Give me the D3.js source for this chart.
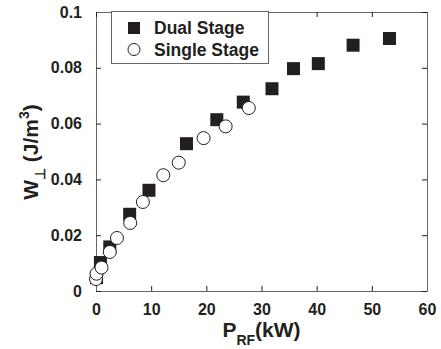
<!DOCTYPE html>
<html>
<head>
<meta charset="utf-8">
<script src="https://cdn.jsdelivr.net/npm/d3@7"></script>
<style>
  body { margin: 0; background: #fff; }
  svg text { font-family: "Liberation Sans", Arial, sans-serif; font-weight: bold; fill: #231f20; }
</style>
</head>
<body>
<svg id="chart" width="441" height="349"></svg>
<script>
// data
const dualX = [0.1, 0.8, 2.5, 6.1, 9.6, 16.4, 21.9, 26.7, 31.9, 35.8, 40.3, 46.6, 53.2];
const dualY = [0.0048, 0.0102, 0.0158, 0.0275, 0.0361, 0.0528, 0.0614, 0.0677, 0.0725, 0.0797, 0.0815, 0.0881, 0.0905];
const singleX = [0.0, 0.1, 1.0, 2.5, 3.8, 6.2, 8.5, 12.2, 15.0, 19.5, 23.5, 27.7];
const singleY = [0.0043, 0.0062, 0.0084, 0.014, 0.019, 0.0244, 0.0319, 0.0415, 0.046, 0.0548, 0.059, 0.0656];
const xTicks = [0, 10, 20, 30, 40, 50, 60];
const yTicks = [0, 0.02, 0.04, 0.06, 0.08, 0.1];
const yTickLabels = ["0", "0.02", "0.04", "0.06", "0.08", "0.1"];
const seriesNames = ["Dual Stage", "Single Stage"];

const ink = "#231f20";
const margin = { left: 96, right: 14, top: 12, bottom: 58 };
const width = 441, height = 349;

const svg = d3.select("#chart");

const x = d3.scaleLinear().domain([0, 60]).range([margin.left, width - margin.right]);
const y = d3.scaleLinear().domain([0, 0.1]).range([height - margin.bottom, margin.top]);

function drawAxes() {
  const tickLen = 5;
  const fmtY = (d, i) => yTickLabels[i];

  svg.append("g")
    .attr("transform", `translate(0,${y(0)})`)
    .call(d3.axisBottom(x).tickValues(xTicks).tickSizeInner(-tickLen).tickSizeOuter(0).tickPadding(13))
    .call(g => g.selectAll("text").attr("font-size", 16).attr("fill", ink));

  svg.append("g")
    .attr("transform", `translate(${x(0)},0)`)
    .call(d3.axisLeft(y).tickValues(yTicks).tickFormat(fmtY).tickSizeInner(-tickLen).tickSizeOuter(0).tickPadding(14))
    .call(g => g.selectAll("text").attr("font-size", 16).attr("fill", ink));

  svg.append("g")
    .attr("transform", `translate(0,${y(0.1)})`)
    .call(d3.axisTop(x).tickValues(xTicks).tickSizeInner(-tickLen).tickSizeOuter(0).tickFormat(""));

  svg.append("g")
    .attr("transform", `translate(${x(60)},0)`)
    .call(d3.axisRight(y).tickValues(yTicks).tickSizeInner(-tickLen).tickSizeOuter(0).tickFormat(""));

  svg.selectAll(".domain").attr("stroke", "#666");
  svg.selectAll(".tick line").attr("stroke", ink);
}

function drawPoints() {
  const side = 13;
  const dual = dualX.map((v, i) => ({ x: v, y: dualY[i] }));
  const single = singleX.map((v, i) => ({ x: v, y: singleY[i] }));

  svg.append("g")
    .selectAll("rect")
    .data(dual)
    .join("rect")
    .attr("x", d => x(d.x) - side / 2)
    .attr("y", d => y(d.y) - side / 2)
    .attr("width", side)
    .attr("height", side)
    .attr("fill", ink);

  svg.append("g")
    .selectAll("circle")
    .data(single)
    .join("circle")
    .attr("cx", d => x(d.x))
    .attr("cy", d => y(d.y))
    .attr("r", 6.5)
    .attr("fill", "#fff")
    .attr("stroke", ink)
    .attr("stroke-width", 1);
}

function drawLegend() {
  const g = svg.append("g");
  g.append("rect")
    .attr("x", 111.5).attr("y", 11.5)
    .attr("width", 157).attr("height", 52)
    .attr("fill", "#fff").attr("stroke", "#666");
  g.append("rect")
    .attr("x", 128).attr("y", 22).attr("width", 12).attr("height", 12).attr("fill", ink);
  g.append("circle")
    .attr("cx", 134).attr("cy", 49.5).attr("r", 6).attr("fill", "#fff").attr("stroke", ink);
  g.append("text").attr("x", 154).attr("y", 34).attr("font-size", 17.5).text(seriesNames[0]);
  g.append("text").attr("x", 154).attr("y", 56).attr("font-size", 17.5).text(seriesNames[1]);
}

function drawTitles() {
  const xt = svg.append("text")
    .attr("x", x(30)).attr("y", 337)
    .attr("text-anchor", "middle")
    .attr("font-size", 21);
  xt.append("tspan").text("P");
  xt.append("tspan").attr("font-size", 14).attr("dy", 8).text("RF");
  xt.append("tspan").attr("dy", -8).text("(kW)");

  const yt = svg.append("text")
    .attr("transform", "translate(38,152) rotate(-90)")
    .attr("text-anchor", "middle")
    .attr("font-size", 21);
  yt.append("tspan").text("W");
  yt.append("tspan").attr("font-size", 14).attr("dy", 7).text("⊥");
  yt.append("tspan").attr("dy", -7).text(" (J/m");
  yt.append("tspan").attr("font-size", 14).attr("dy", -9).text("3");
  yt.append("tspan").attr("dy", 9).text(")");
}

drawAxes();
drawPoints();
drawLegend();
drawTitles();
</script>
</body>
</html>
